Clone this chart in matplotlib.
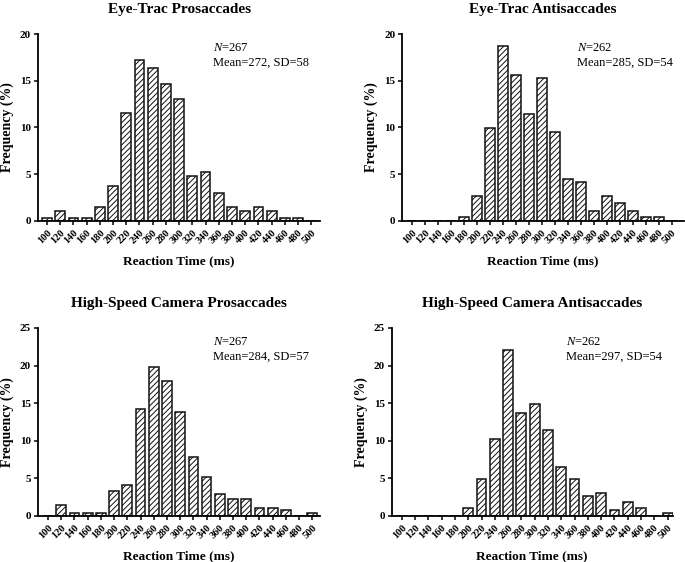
import numpy as np
import matplotlib
matplotlib.use('Agg')
import matplotlib.pyplot as plt

plt.rcParams['font.family'] = ['Liberation Serif', 'DejaVu Serif']
plt.rcParams['hatch.linewidth'] = 0.7
plt.rcParams['mathtext.fontset'] = 'custom'
plt.rcParams['mathtext.it'] = 'Liberation Serif:italic'
plt.rcParams['mathtext.rm'] = 'Liberation Serif'

# Reaction-time bins (ms)
bins = [100, 120, 140, 160, 180, 200, 220, 240, 260, 280, 300,
        320, 340, 360, 380, 400, 420, 440, 460, 480, 500]

# Frequencies (%)
eyetrac_pro = [0.37, 1.1, 0.37, 0.37, 1.5, 3.7, 11.6, 17.2, 16.4, 14.6, 13.1,
               4.8, 5.2, 2.95, 1.5, 1.1, 1.5, 1.1, 0.37, 0.37, 0]
eyetrac_anti = [0, 0, 0, 0, 0.38, 2.65, 9.9, 18.7, 15.6, 11.45, 15.3,
                9.5, 4.5, 4.2, 1.1, 2.65, 1.9, 1.1, 0.38, 0.38, 0]
camera_pro = [0, 1.45, 0.37, 0.37, 0.37, 3.35, 4.1, 14.2, 19.8, 17.95, 13.8,
              7.8, 5.2, 2.95, 2.2, 2.2, 1.1, 1.1, 0.75, 0, 0.37]
camera_anti = [0, 0, 0, 0, 0, 1.1, 4.95, 10.3, 22.1, 13.7, 14.9,
               11.45, 6.5, 4.95, 2.65, 3.05, 0.75, 1.9, 1.1, 0, 0.38]

titles = ['Eye-Trac Prosaccades', 'Eye-Trac Antisaccades',
          'High-Speed Camera Prosaccades', 'High-Speed Camera Antisaccades']
n_values = [267, 262, 267, 262]
means = [272, 285, 284, 297]
sds = [58, 54, 57, 54]
ymax = [20, 20, 25, 25]

fig = plt.figure(figsize=(6.85, 5.62), dpi=100)

# axes rectangles in figure fractions [left, bottom, width, height]
rects = [
    [0.0555, 0.6068, 0.412, 0.3327],
    [0.587, 0.6068, 0.411, 0.3327],
    [0.0555, 0.0819, 0.412, 0.3345],
    [0.572, 0.0819, 0.410, 0.3345],
]
xlims = [(-0.68, 20.68), (-0.77, 20.9), (-0.76, 20.6), (-0.75, 20.38)]

series = [eyetrac_pro, eyetrac_anti, camera_pro, camera_anti]
x = np.arange(len(bins))

for i in range(4):
    ax = fig.add_axes(rects[i])
    ax.bar(x, series[i], width=0.74, color='white', edgecolor='#111111',
           linewidth=1.1, hatch='//////')
    ax.set_xlim(*xlims[i])
    ax.set_ylim(0, ymax[i])
    ax.set_yticks(range(0, ymax[i] + 1, 5))
    ax.set_xticks(x)
    ax.set_xticklabels([str(b) for b in bins], rotation=45, ha='right',
                       rotation_mode='anchor', fontsize=7.5, fontweight='bold')
    for lab in ax.get_yticklabels():
        lab.set_fontweight('bold')
        lab.set_fontsize(8)
    ax.spines['top'].set_visible(False)
    ax.spines['right'].set_visible(False)
    ax.spines['left'].set_linewidth(1.3)
    ax.spines['bottom'].set_linewidth(1.3)
    ax.tick_params(axis='both', direction='out', length=3, width=1.1, pad=2)
    ax.set_ylabel('Frequency (%)', fontsize=10, fontweight='bold', labelpad=4)
    ax.set_xlabel('Reaction Time (ms)', fontsize=9.5, fontweight='bold', labelpad=7)
    ax.set_title(titles[i], fontsize=11, fontweight='bold', pad=15)
    ax.text(0.62, 0.955, '$N$=%d\nMean=%d, SD=%d' % (n_values[i], means[i], sds[i]),
            transform=ax.transAxes, fontsize=9, va='top', ha='left',
            linespacing=1.3)

fig.savefig('out.png', dpi=100)
